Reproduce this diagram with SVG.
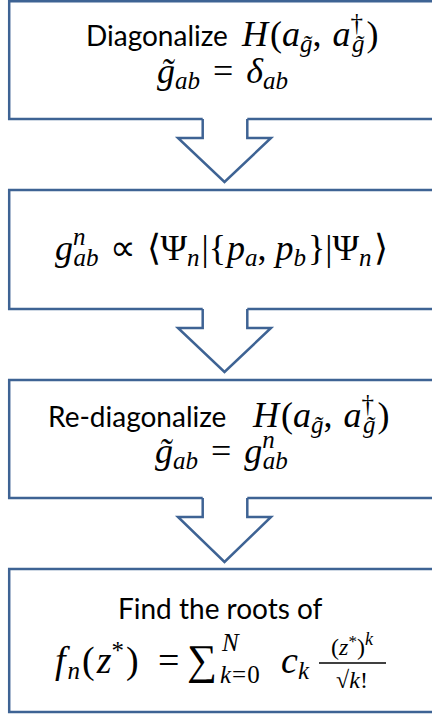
<svg xmlns="http://www.w3.org/2000/svg" width="432" height="715" viewBox="0 0 432 715">
<style>
.box{fill:#fff;stroke:#3E6394;stroke-width:2.5}
.arr{fill:#fff;stroke:#3E6394;stroke-width:2.5;stroke-linejoin:miter}
.s{font-family:Lato,"Liberation Sans",Arial,sans-serif;font-size:28px;fill:#000}
.m{font-family:"Liberation Serif","Times New Roman",serif;font-style:italic;font-size:36px;fill:#000}
.r{font-style:normal}
.sb{font-size:25px}
</style>
<g id="connectors">
<path class="arr" d="M202.7,119 V138 H178 L224.5,182 L271,138 H247.3 V119"/>
<path class="arr" d="M202.7,309 V328 H178 L224.5,372 L271,328 H247.3 V309"/>
<path class="arr" d="M202.7,498 V517 H178 L224.5,562 L271,517 H247.3 V498"/>
</g>
<g id="node1">
<path class="box" d="M440,1.2 H9.2 V119 H202.7 M247.3,119 H440"/>
<text x="86" y="46" class="s">Diagonalize</text>
<text x="242" y="46"><tspan class="m">H</tspan><tspan class="m r" dx="2">(</tspan><tspan class="m">a</tspan><tspan class="m sb" dy="6">g̃</tspan><tspan class="m r" dy="-6">, </tspan><tspan class="m" dx="2">a</tspan><tspan class="m sb r" dy="-15">†</tspan><tspan class="m sb" dx="-11" dy="21">g̃</tspan><tspan class="m r" dx="2" dy="-6">)</tspan></text>
<text x="157" y="83"><tspan class="m">g̃</tspan><tspan class="m sb" dy="6">ab</tspan><tspan class="m r" dx="13" dy="-6">=</tspan><tspan class="m" dx="13">δ</tspan><tspan class="m sb" dy="6">ab</tspan></text>
</g>
<g id="node2">
<path class="box" d="M440,190 H9.2 V309 H202.7 M247.3,309 H440"/>
<text x="55" y="260"><tspan class="m">g</tspan><tspan class="m sb" dy="-15">n</tspan><tspan class="m sb" dx="-12" dy="21">ab</tspan><tspan class="m r" dx="11" dy="-6">∝</tspan><tspan class="m r" dx="11">⟨Ψ</tspan><tspan class="m sb" dy="6">n</tspan><tspan class="m r" dx="2" dy="-6">|{</tspan><tspan class="m" dx="1">p</tspan><tspan class="m sb" dy="6">a</tspan><tspan class="m r" dy="-6">,</tspan><tspan class="m" dx="9">p</tspan><tspan class="m sb" dy="6">b</tspan><tspan class="m r" dx="2" dy="-6">}|Ψ</tspan><tspan class="m sb" dy="6">n</tspan><tspan class="m r" dx="2" dy="-6">⟩</tspan></text>
</g>
<g id="node3">
<path class="box" d="M440,380 H9.2 V498 H202.7 M247.3,498 H440"/>
<text x="48" y="427" class="s">Re-diagonalize</text>
<text x="253" y="427"><tspan class="m">H</tspan><tspan class="m r" dx="2">(</tspan><tspan class="m">a</tspan><tspan class="m sb" dy="6">g̃</tspan><tspan class="m r" dy="-6">, </tspan><tspan class="m" dx="2">a</tspan><tspan class="m sb r" dy="-15">†</tspan><tspan class="m sb" dx="-11" dy="21">g̃</tspan><tspan class="m r" dx="2" dy="-6">)</tspan></text>
<text x="155" y="463"><tspan class="m">g̃</tspan><tspan class="m sb" dy="6">ab</tspan><tspan class="m r" dx="13" dy="-6">=</tspan><tspan class="m" dx="13">g</tspan><tspan class="m sb" dy="-15">n</tspan><tspan class="m sb" dx="-12" dy="21">ab</tspan></text>
</g>
<g id="node4">
<rect class="box" x="9.2" y="569" width="431" height="143"/>
<text x="118" y="619" class="s">Find the roots of</text>
<text x="55" y="673"><tspan class="m" style="font-size:38px">f</tspan><tspan class="m sb" dx="2" dy="6">n</tspan><tspan class="m r" dx="2" dy="-6" style="font-size:38px">(</tspan><tspan class="m" dx="2" style="font-size:38px">z</tspan><tspan class="m sb r" dy="-14">*</tspan><tspan class="m r" dx="2" dy="14" style="font-size:38px">)</tspan></text>
<text x="158" y="673" class="m r" style="font-size:38px">=</text>
<text x="187" y="674" class="m r" style="font-size:42px">∑</text>
<text x="222" y="651" class="m sb">N</text>
<text x="220" y="683"><tspan class="m sb">k</tspan><tspan class="m sb r" dx="1">=</tspan><tspan class="m sb r" dx="1">0</tspan></text>
<text x="281" y="673"><tspan class="m" style="font-size:38px">c</tspan><tspan class="m sb" dy="6">k</tspan></text>
<text x="352" y="655" text-anchor="middle"><tspan class="m r" style="font-size:24px">(</tspan><tspan class="m" style="font-size:24px">z</tspan><tspan class="m r" style="font-size:17px" dy="-8">*</tspan><tspan class="m r" style="font-size:24px" dy="8">)</tspan><tspan class="m" style="font-size:18px" dy="-10">k</tspan></text>
<line x1="319" y1="663" x2="386" y2="663" stroke="#000" stroke-width="1.3"/>
<text x="352" y="688" text-anchor="middle"><tspan class="m r" style="font-size:24px">√</tspan><tspan class="m" style="font-size:24px">k</tspan><tspan class="m r" style="font-size:24px">!</tspan></text>
</g>
</svg>
